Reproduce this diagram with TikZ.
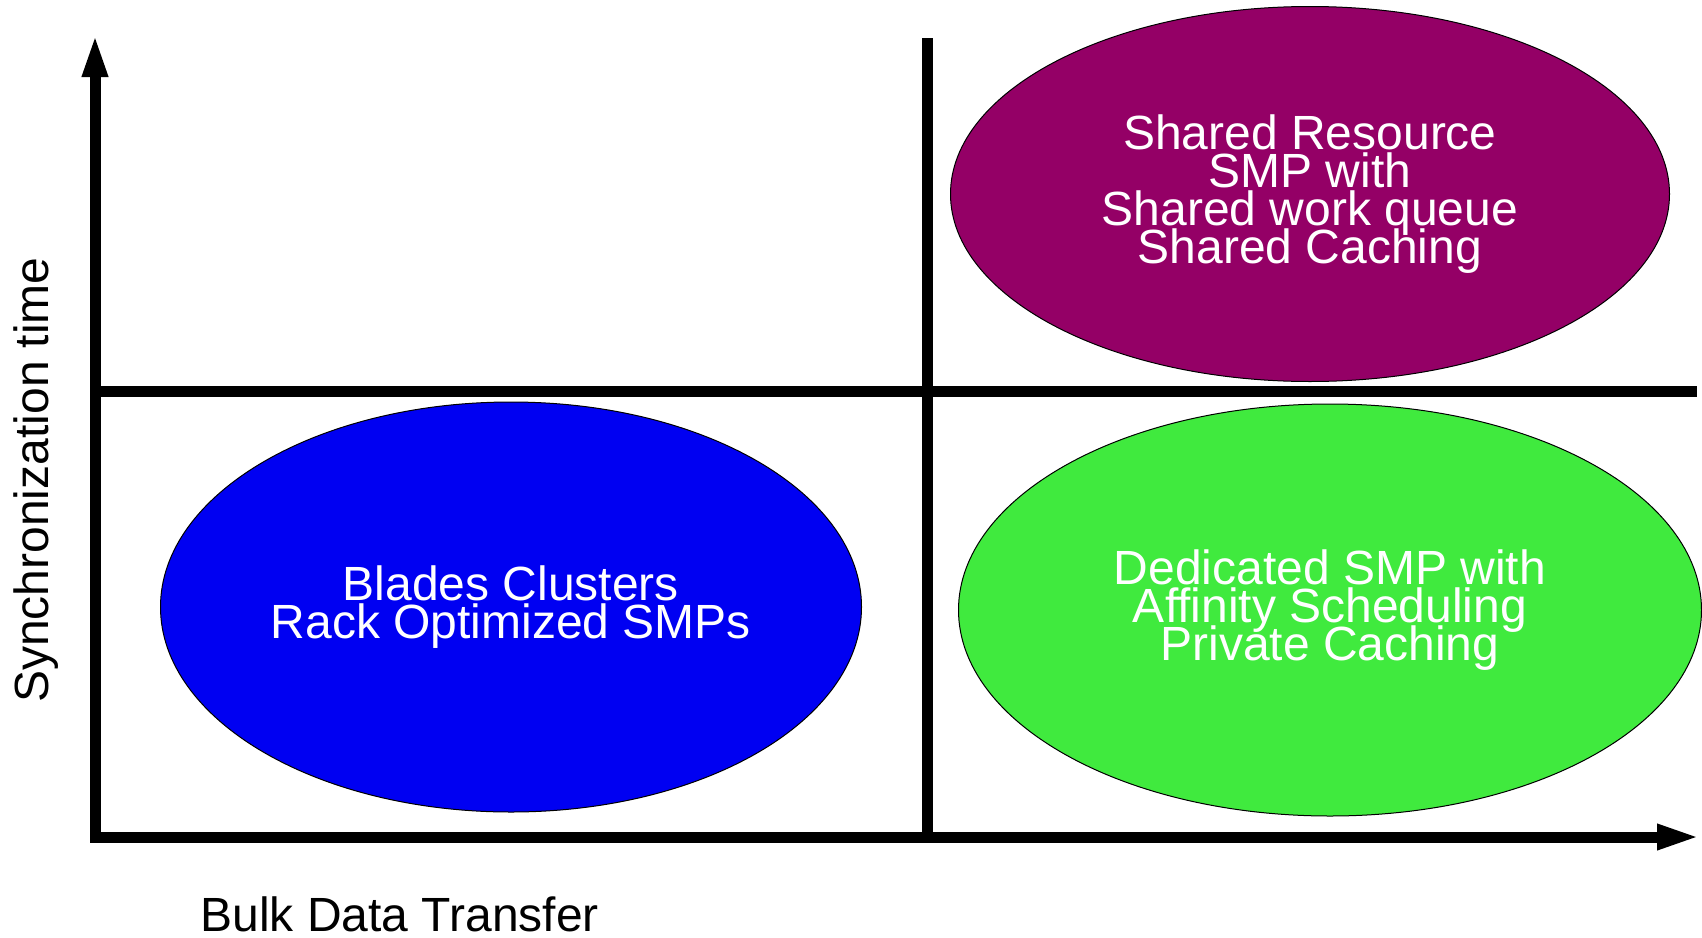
\documentclass[tikz,border=0pt]{standalone}
\usepackage{fontspec}
\setmainfont{Liberation Sans}
\usepackage{xcolor}
\usepackage{tikz}
\usetikzlibrary{positioning}
\usetikzlibrary{shapes.geometric}
\usetikzlibrary{arrows.meta}
\definecolor{sharedpurple}{RGB}{148,0,102}
\definecolor{bladeblue}{RGB}{0,0,242}
\definecolor{affinitygreen}{RGB}{64,234,62}
\newcommand{\quadfont}{\fontsize{24}{19}\selectfont\lineskiplimit=-100pt\relax}
\tikzset{
    none/.style = {inner sep=0pt},
    axes/.style = {line width=5.5pt, line join=miter,
        arrows={Triangle[length=22pt, width=11.5pt]-Triangle[length=22pt, width=11.5pt]}},
    divider/.style = {line width=5.5pt},
    quadrant/.style = {ellipse, draw=black, line width=0.5pt, inner sep=0pt,
        text=white, align=center, font=\quadfont},
    axislabel/.style = {inner sep=0pt, font=\quadfont}
}

\begin{document}
\begin{tikzpicture}[x=0.5pt, y=-0.5pt]
    \useasboundingbox (0, 0) rectangle (1702, 937);
    \coordinate (origin) at (95, 837);
    \coordinate (ytip) at (95, 33);
    \coordinate (xtip) at (1701, 837);
    \coordinate (midleft) at (95, 391);
    \coordinate (midright) at (1697, 391);
    \coordinate (divtop) at (927, 38);
    \coordinate (divbottom) at (927, 837);

    % Quadrant dividers
    \draw [divider] (midleft) -- (midright);
    \draw [divider] (divtop) -- (divbottom);
    % Axes
    \draw [axes] (ytip) |- (xtip);

    \node [quadrant, fill=sharedpurple, minimum width=359.5pt, minimum height=187.5pt]
        (shared) at (1310, 194) {Shared Resource\\SMP with\\Shared work queue\\Shared Caching};
    \node [quadrant, fill=bladeblue, minimum width=350.5pt, minimum height=205pt]
        (blades) at (511, 607) {Blades Clusters\\Rack Optimized SMPs};
    \node [quadrant, fill=affinitygreen, minimum width=371.5pt, minimum height=206pt]
        (dedicated) at (1330, 610) {Dedicated SMP with\\Affinity Scheduling\\Private Caching};

    \node [axislabel, anchor=base west] (xlabel) at (200, 931) {Bulk Data Transfer};
    \node [axislabel, anchor=base, rotate=90] (ylabel) at (48, 480) {Synchronization time};
\end{tikzpicture}
\end{document}
